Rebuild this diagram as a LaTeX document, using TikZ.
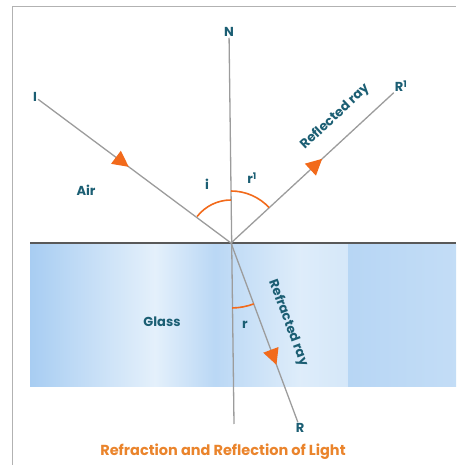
\documentclass[tikz,border=0pt]{standalone}
\usepackage{fontspec}
\setsansfont{Poppins}
\usepackage{xcolor}
\usepackage{tikz}
\usetikzlibrary{arrows.meta,calc,decorations.markings,positioning}

\definecolor{labelteal}{HTML}{1B5E73}
\definecolor{rayorange}{HTML}{F26A1B}
\definecolor{captionorange}{HTML}{EA842C}
\definecolor{raygray}{HTML}{9C9C9C}
\definecolor{glassdark}{HTML}{A8CDF2}
\definecolor{glasslight}{HTML}{E4F0FB}

\begin{document}
\begin{tikzpicture}[x=1pt, y=1pt,
  lbl/.style={font=\sffamily\bfseries\fontsize{13}{15}\selectfont, text=labelteal, inner sep=1pt},
  ray/.style={raygray, line width=1.3pt},
  midarrow/.style={postaction={decorate, decoration={markings,
      mark=at position #1 with {\arrow[rayorange]{Triangle[length=16pt, width=16pt]}}}}},
  anglearc/.style={rayorange, line width=1.6pt}]
\useasboundingbox (0,0) rectangle (456,465);
% frame
\draw[gray!60, line width=1pt] (12,0) -- (12,458) -- (456,458);
% glass block
\shade[left color=glassdark, right color=glassdark!75!glasslight] (30,78) rectangle (60,220);
\shade[left color=glassdark!75!glasslight, right color=glasslight] (60,78) rectangle (155,220);
\shade[left color=glasslight, right color=glassdark!70!glasslight] (155,78) rectangle (215,220);
\shade[left color=glassdark!70!glasslight, right color=glasslight!90!glassdark] (215,78) rectangle (300,220);
\shade[left color=glasslight!90!glassdark, right color=glasslight!75!glassdark] (300,78) rectangle (348,220);
\shade[left color=glassdark!75!glasslight, right color=glassdark!55!glasslight] (348,78) rectangle (456,220);
% surface
\draw[gray!70!black, line width=1.5pt] (30,222) -- (456,222);
% points
\coordinate (O) at (231,222);
\coordinate (Nb) at (234,41);
\node[lbl] (N) at (229,433) {N};
\node[lbl] (I) at (35,368) {I};
\node[lbl] (R1) at (401,379) {R\textsuperscript{1}};
\node[lbl] (R) at (300,37) {R};
% normal
\draw[ray] (N) -- (Nb);
% rays
\draw[ray, midarrow=0.47] (I) -- (O);
\draw[ray, midarrow=0.56] (O) -- (R1);
\draw[ray, midarrow=0.68] (O) -- (R);
% angles
\draw[anglearc] ($(O)+(142:43)$) arc[start angle=142, end angle=90, radius=43];
\draw[anglearc] ($(O)+(90:52)$) arc[start angle=90, end angle=43, radius=52];
\draw[anglearc] ($(O)+(-89:65)$) arc[start angle=-89, end angle=-69.5, radius=65];
% labels
\node[lbl] (air) at (86,275) {Air};
\node[lbl] (glass) at (162,143) {Glass};
\node[lbl] (ai) at (207,281) {i};
\node[lbl] (ar1) at (252,287) {r\textsuperscript{1}};
\node[lbl] (ar) at (245,140) {r};
\node[lbl, rotate=43] (reflab) at (335,348) {Reflected ray};
\node[lbl, rotate=-69.5] (refrlab) at (288,142) {Refracted ray};
\node[font=\sffamily\bfseries\fontsize{14.5}{17}\selectfont, text=captionorange] (cap) at (223,13)
  {Refraction and Reflection of Light};
\end{tikzpicture}
\end{document}
